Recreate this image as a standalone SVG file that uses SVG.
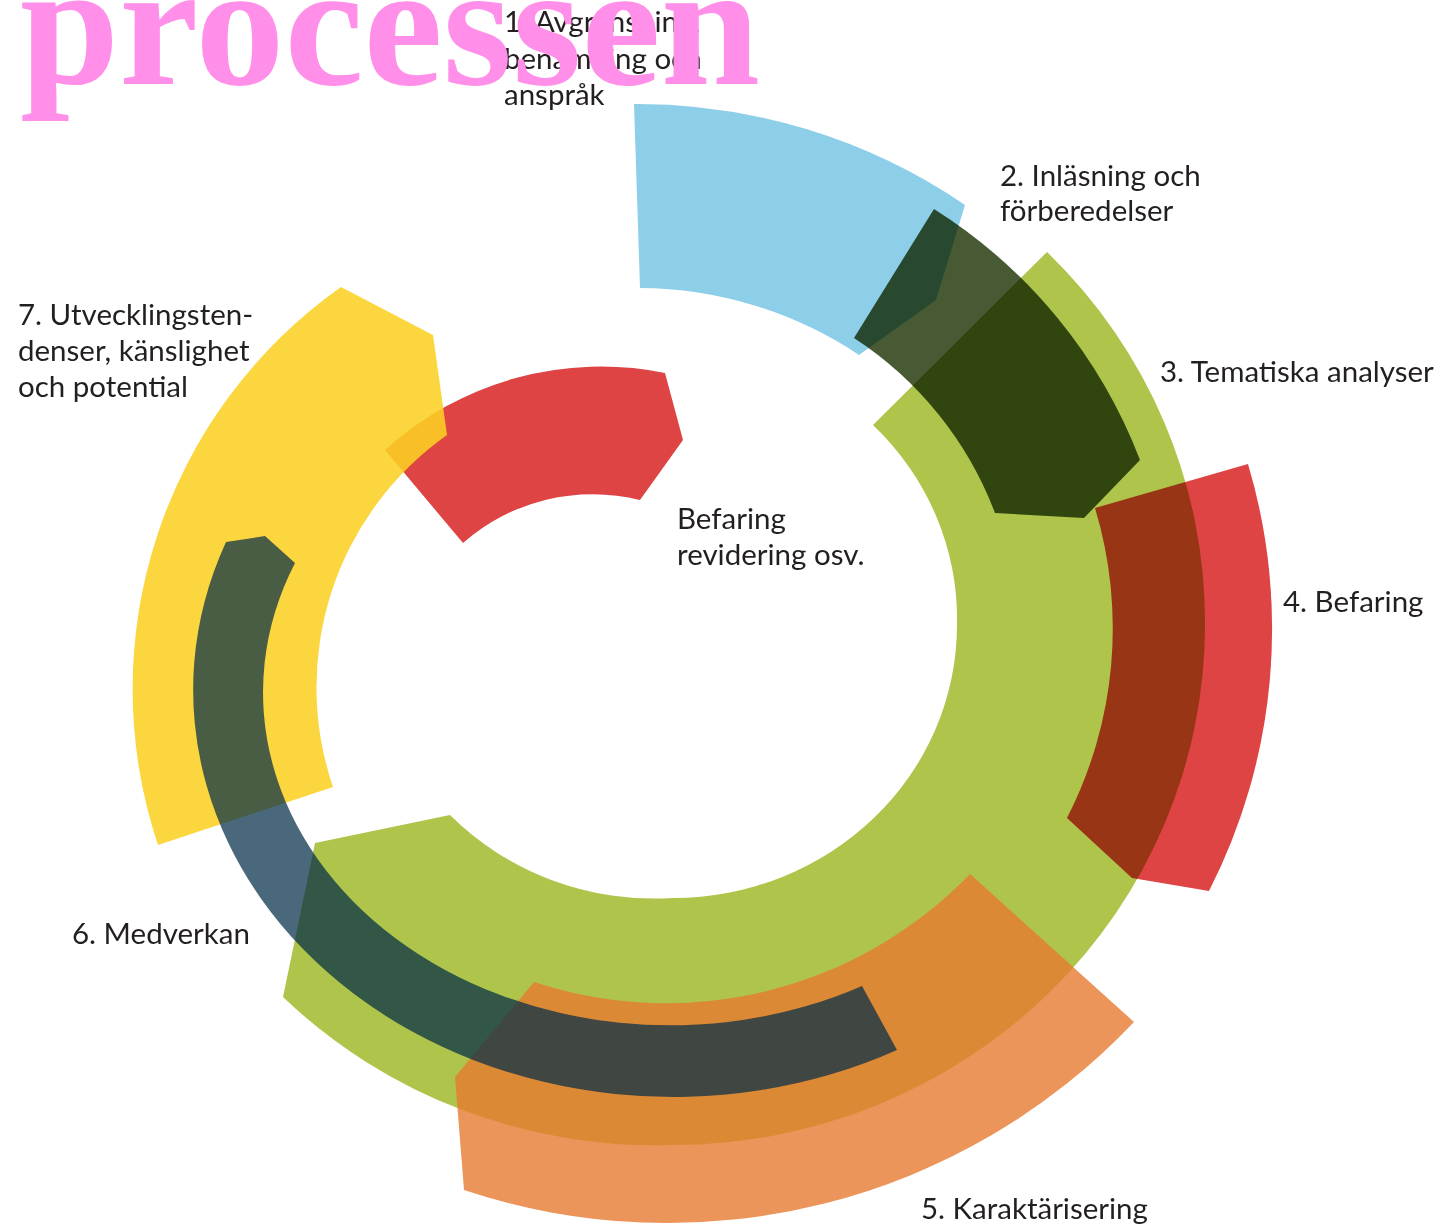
<svg xmlns="http://www.w3.org/2000/svg" width="1450" height="1226" viewBox="0 0 1450 1226">
<style>
.lbl{font-family:Lato,"Liberation Sans",sans-serif;font-size:29.5px;fill:#231f20}
.title{font-family:"Liberation Serif",serif;font-weight:bold;font-size:176px;fill:#ff8fe8}
.mul{mix-blend-mode:multiply}
.green{fill:#afc44b}
.blue{fill:#8dcfe8}
.red{fill:#de4444}
.yellow{fill:#fcd023;fill-opacity:0.88}
.orange{fill:#e77a31;fill-opacity:0.8}
.navy{fill:#002a46;fill-opacity:0.71}
.olive{fill:#475a33}
</style>
<rect width="1450" height="1226" fill="#ffffff"/>
<g id="connectors"/>
<g id="node-3-tematiska-analyser">
<path class="green" d="M1047,252 A532,520 0 0 1 1205,625 A532,520 0 0 1 673,1145 A532,520 0 0 1 283,997 L315,843 L450,815 A284,273 0 0 0 673,898 A284,273 0 0 0 957,625 A284,273 0 0 0 873,425 Z"/>
<text class="lbl" x="1160" y="382">3. Tematiska analyser</text>
</g>
<g id="node-1-avgransning">
<path class="blue" d="M634,104 A583,583 0 0 1 965,205 L936,300 L859,355 A399,399 0 0 0 640,288 Z"/>
<text class="lbl" x="504" y="32">1. Avgränsning,</text>
<text class="lbl" x="504" y="69">benämning och</text>
<text class="lbl" x="504" y="105">anspråk</text>
</g>
<g id="node-befaring-revidering">
<path class="red" d="M385,450 A321,321 0 0 1 665,373 L683,440 L640,500 A196,196 0 0 0 463,543 Z"/>
<text class="lbl" x="677" y="529">Befaring</text>
<text class="lbl" x="677" y="565">revidering osv.</text>
</g>
<g id="node-7-utvecklingstendenser">
<path class="yellow" d="M158,845 A492,492 0 0 1 341,287 L433,335 L447,435 A309,309 0 0 0 333,787 Z"/>
<text class="lbl" x="18" y="325">7. Utvecklingsten-</text>
<text class="lbl" x="18" y="361">denser, känslighet</text>
<text class="lbl" x="18" y="397">och potential</text>
</g>
<g id="node-5-karakterisering">
<path class="orange" d="M464,1190 L455,1077 L534,982 A422,422 0 0 0 970,874 L1134,1022 A642,642 0 0 1 464,1190 Z"/>
<text class="lbl" x="921" y="1219">5. Karaktärisering</text>
</g>
<g id="node-6-medverkan">
<path class="navy" d="M226,542 L265,536 L295,563 A407,333 0 0 0 862,986 L897,1050 A480,407 0 0 1 226,542 Z"/>
<text class="lbl" x="72" y="944">6. Medverkan</text>
</g>
<g id="node-2-inlasning" class="mul">
<path class="olive" d="M934,209 A514,514 0 0 1 1140,460 L1084,518 L995,513 A362,362 0 0 0 854,338 Z"/>
<text class="lbl" x="1000" y="186">2. Inläsning och</text>
<text class="lbl" x="1000" y="221">förberedelser</text>
</g>
<g id="node-4-befaring" class="mul">
<path class="red" d="M1095,508 L1248,464 A576,576 0 0 1 1209,891 L1132,878 L1067,818 A416,416 0 0 0 1095,508 Z"/>
<text class="lbl" x="1283" y="612">4. Befaring</text>
</g>
<g id="title">
<text class="title" x="20" y="84" textLength="740" lengthAdjust="spacingAndGlyphs">processen</text>
</g>
</svg>
